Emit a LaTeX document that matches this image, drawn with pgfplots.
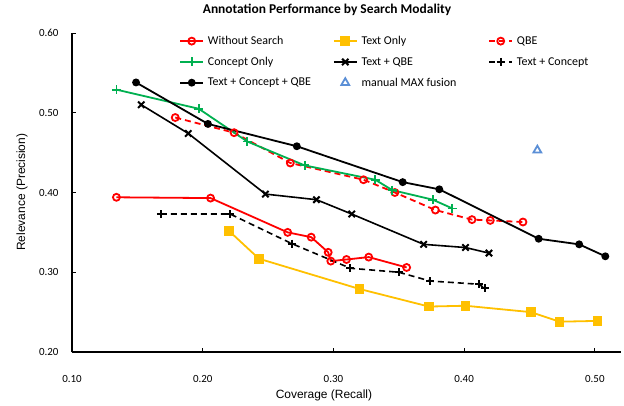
\documentclass[border=0pt]{standalone}
\usepackage{fontspec}
\setmainfont{Carlito}
\newfontfamily\lib{Liberation Sans}
\usepackage{pgfplots}
\pgfplotsset{compat=1.18}
\definecolor{myred}{HTML}{FF0000}
\definecolor{myorange}{HTML}{FFC000}
\definecolor{mygreen}{HTML}{00B050}
\definecolor{myblue}{HTML}{5B8FD6}
\begin{document}
\begin{tikzpicture}
\begin{axis}[
  at={(0,0)}, anchor=south west,
  scale only axis, width=549bp, height=319bp,
  xmin=0.1, xmax=0.52, ymin=0.2, ymax=0.6,
  axis x line=bottom, axis y line=left,
  axis line style={-, line width=1.3bp, black},
  xtick={0.1,0.2,0.3,0.4,0.5}, ytick={0.2,0.3,0.4,0.5,0.6},
  scaled ticks=false,
  tick align=inside, major tick length=4bp,
  tick style={line width=1bp, black},
  tick label style={font=\fontsize{11}{12}\selectfont,
    /pgf/number format/fixed, /pgf/number format/fixed zerofill,
    /pgf/number format/precision=2, /pgf/number format/assume math mode=true},
  xticklabel style={yshift=-20bp},
  yticklabel style={xshift=-10bp},
  xlabel={Coverage (Recall)},
  xlabel style={font=\lib\fontsize{12}{14}\selectfont, at={(0.459,-0.135)}, anchor=center},
  ylabel={Relevance (Precision)},
  ylabel style={font=\lib\fontsize{12}{14}\selectfont, at={(-0.091,0.501)}, anchor=center, rotate=0},
  clip=false,
  legend columns=3,
  legend cell align=left,
  legend style={draw=none, fill=none, at={(0.19,1.003)}, anchor=north west,
    font=\fontsize{12}{13}\selectfont, row sep=7bp,
    nodes={inner xsep=4bp},
    /tikz/column 2/.style={column sep=18bp},
    /tikz/column 4/.style={column sep=28bp}},
  legend image code/.code={\draw[mark repeat=2,mark phase=2] plot coordinates {(0cm,0cm) (0.4cm,0cm) (0.8cm,0cm)};},
]
\node[font=\bfseries\fontsize{13.5}{15}\selectfont, anchor=center] at (rel axis cs:0.4645,1.072) {Annotation Performance by Search Modality};
\addplot[myred, line width=1.8bp, mark=o, mark size=3.5bp, mark options={solid, line width=1.8bp}] coordinates {
(0.134,0.394) (0.206,0.393) (0.265,0.350) (0.283,0.344) (0.296,0.325) (0.298,0.314) (0.310,0.316) (0.327,0.319) (0.356,0.306)};
\addlegendentry{Without Search}
\addplot[myorange, line width=1.8bp, mark=square*, mark size=4bp, mark options={solid}] coordinates {
(0.220,0.352) (0.243,0.317) (0.320,0.279) (0.373,0.257) (0.401,0.258) (0.451,0.250) (0.473,0.238) (0.502,0.239)};
\addlegendentry{Text Only}
\addplot[myred, line width=1.8bp, dash pattern=on 6bp off 4bp, mark=o, mark size=3.5bp, mark options={solid, line width=1.8bp}] coordinates {
(0.179,0.494) (0.224,0.475) (0.267,0.437) (0.323,0.416) (0.347,0.400) (0.378,0.378) (0.406,0.366) (0.420,0.365) (0.445,0.363)};
\addlegendentry{QBE}
\addplot[mygreen, line width=1.8bp, mark=+, mark size=4.5bp, mark options={solid, line width=1.8bp}] coordinates {
(0.134,0.529) (0.197,0.505) (0.234,0.464) (0.278,0.434) (0.332,0.416) (0.345,0.403) (0.376,0.391) (0.391,0.380)};
\addlegendentry{Concept Only}
\addplot[black, line width=1.6bp, mark=x, mark size=4.5bp, mark options={solid, line width=2bp}] coordinates {
(0.153,0.510) (0.189,0.474) (0.248,0.398) (0.287,0.391) (0.314,0.373) (0.369,0.335) (0.401,0.331) (0.419,0.324)};
\addlegendentry{Text + QBE}
\addplot[black, line width=1.6bp, dash pattern=on 6bp off 4bp, mark=+, mark size=4bp, mark options={solid, line width=2bp}] coordinates {
(0.168,0.373) (0.221,0.373) (0.268,0.336) (0.313,0.305) (0.350,0.300) (0.374,0.289) (0.411,0.285) (0.416,0.280)};
\addlegendentry{Text + Concept}
\addplot[black, line width=1.8bp, mark=*, mark size=3bp, mark options={solid}] coordinates {
(0.149,0.538) (0.204,0.486) (0.272,0.458) (0.353,0.413) (0.381,0.404) (0.457,0.342) (0.488,0.335) (0.508,0.320)};
\addlegendentry{Text + Concept + QBE}
\addplot[myblue, only marks, mark=triangle, mark size=4.5bp, mark options={solid, line width=1.8bp},
  legend image code/.code={\draw plot[only marks] coordinates {(0.4cm,0cm)};}] coordinates {
(0.456,0.453)};
\addlegendentry{manual MAX fusion}
\end{axis}
\pgfresetboundingbox
\path[use as bounding box] (-72bp,-54bp) rectangle (552bp,352bp);
\end{tikzpicture}
\end{document}
